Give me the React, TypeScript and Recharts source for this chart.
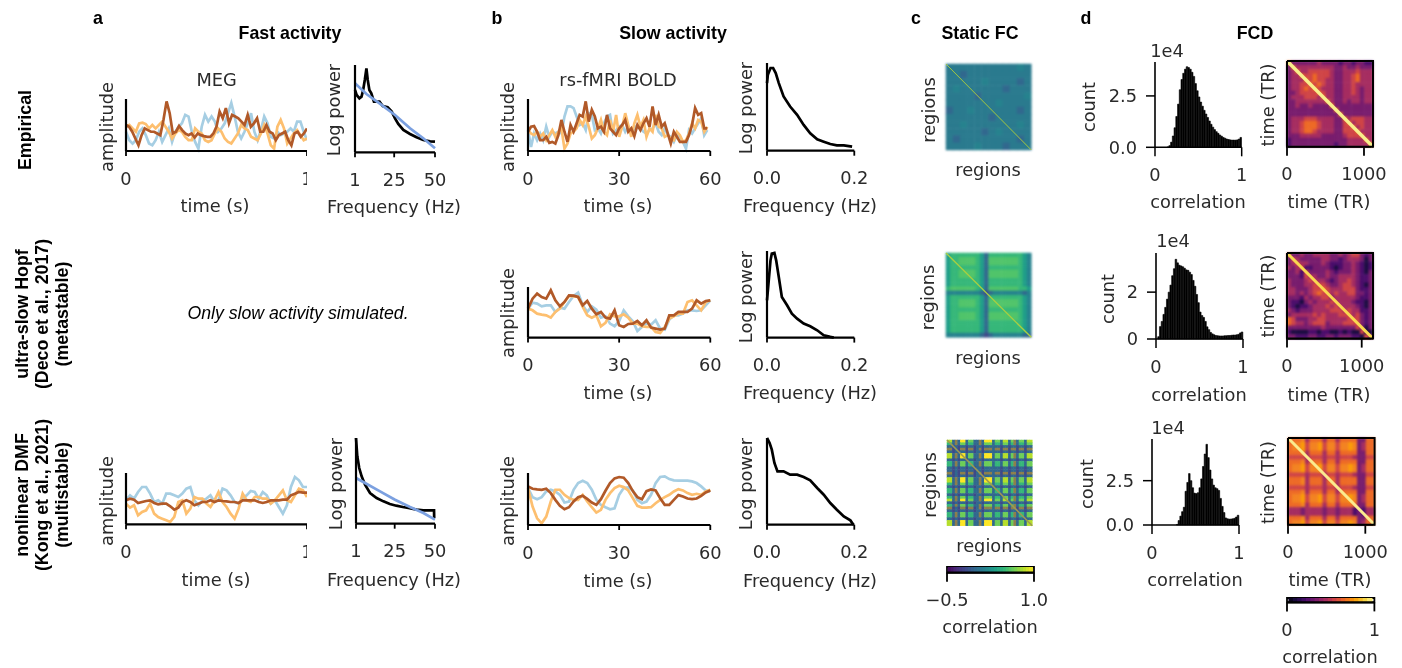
import {
  Bar,
  BarChart,
  Cell,
  Line,
  LineChart,
  ReferenceArea,
  Scatter,
  ScatterChart,
  XAxis,
  YAxis,
} from "recharts"

const BLUE = "#a6cee3"
const ORANGE = "#fdbf6f"
const BROWN = "#b15928"
const FIT = "#7ba0e0"
const INK = "#2a2a2a"
const SANS = "DejaVu Sans"
const HELV = "Liberation Sans"
const FONT_SIZE = 17.8

// time series, arbitrary amplitude units
const megBlue = [57, 32, 22, 32, 57, 67, 47, 22, 17, 32, 57, 27, 47, 67, 27, 57, 72, 82, 107, 102, 57, 27, 7, 72, 107, 87, 102, 87, 57, 67, 82, 112, 142, 102, 57, 37, 57, 82, 112, 57, 32, 62, 102, 82, 42, 37, 57, 47, 52, 57, 67, 57, 87, 87, 57, 32]
const megOrange = [72, 77, 67, 57, 82, 84, 80, 67, 77, 67, 77, 87, 72, 57, 37, 52, 62, 57, 42, 32, 32, 67, 57, 52, 32, 27, 32, 52, 67, 57, 37, 27, 22, 37, 52, 77, 67, 62, 42, 37, 32, 52, 77, 52, 17, 7, 72, 92, 67, 22, 37, 52, 62, 47, 32, 37]
const megBrown = [77, 72, 57, 37, 17, 47, 67, 62, 57, 57, 52, 47, 92, 147, 112, 52, 57, 74, 62, 52, 47, 52, 40, 52, 47, 44, 42, 42, 52, 72, 117, 97, 127, 82, 107, 102, 97, 87, 77, 107, 72, 82, 97, 57, 57, 77, 57, 52, 32, 47, 52, 57, 32, 17, 52, 57, 42, 52, 67]

const boldBlue = [62, 12, 52, 32, 52, 32, 72, 42, 57, 52, 57, 52, 102, 132, 132, 127, 102, 77, 82, 62, 112, 107, 62, 67, 52, 82, 102, 107, 52, 62, 72, 77, 57, 72, 52, 67, 77, 67, 57, 52, 62, 67, 82, 57, 47, 67, 47, 42, 27, 47, 42, 27, 7, 62, 52, 67, 82, 97, 47, 62]
const boldOrange = [62, 52, 47, 57, 42, 52, 32, 47, 62, 42, 57, 67, 7, 22, 52, 57, 67, 92, 77, 102, 72, 37, 47, 67, 92, 57, 47, 92, 57, 107, 42, 72, 112, 77, 42, 82, 107, 72, 92, 42, 67, 57, 107, 72, 67, 42, 47, 37, 32, 57, 47, 27, 32, 52, 82, 67, 92, 87, 57, 72]
const boldBrown = [57, 72, 74, 57, 32, 32, 42, 24, 27, 22, 47, 92, 57, 27, 77, 57, 82, 107, 102, 147, 87, 122, 102, 67, 72, 57, 107, 67, 57, 47, 67, 77, 92, 57, 67, 44, 77, 62, 82, 97, 72, 132, 77, 107, 72, 82, 52, 22, 57, 42, 27, 27, 27, 47, 77, 127, 107, 112, 67, 67]

const hopfBlue = [87, 105, 102, 94, 97, 97, 77, 90, 87, 107, 125, 135, 97, 77, 94, 84, 60, 64, 42, 34, 50, 82, 64, 49, 20, 32, 44, 39, 52, 27, 24, 54, 67, 67, 72, 82, 82, 80, 82, 97, 112]
const hopfOrange = [87, 82, 72, 69, 67, 60, 77, 87, 107, 125, 124, 122, 92, 67, 60, 67, 34, 44, 70, 64, 64, 70, 60, 42, 42, 34, 32, 32, 17, 14, 32, 57, 64, 72, 72, 107, 112, 97, 82, 107, 112]
const hopfBrown = [87, 117, 132, 122, 117, 142, 112, 94, 107, 127, 126, 122, 97, 110, 87, 70, 77, 60, 57, 82, 37, 32, 41, 42, 50, 37, 52, 30, 27, 24, 27, 67, 67, 77, 77, 77, 87, 112, 102, 110, 112]

const dmfFastBlue = [72, 87, 77, 97, 112, 112, 92, 67, 72, 62, 92, 92, 87, 82, 92, 107, 112, 72, 57, 72, 77, 87, 67, 72, 107, 102, 87, 67, 62, 77, 87, 100, 97, 77, 97, 87, 62, 72, 52, 32, 57, 112, 142, 132, 112, 112]
const dmfFastOrange = [62, 50, 57, 27, 37, 42, 62, 32, 22, 17, 12, 7, 22, 67, 72, 32, 47, 82, 77, 77, 62, 52, 72, 97, 67, 52, 32, 17, 47, 92, 72, 67, 82, 82, 77, 77, 62, 72, 87, 102, 72, 67, 87, 107, 102, 82]
const dmfFastBrown = [72, 77, 74, 64, 67, 70, 72, 64, 60, 62, 62, 54, 44, 50, 67, 72, 67, 57, 62, 67, 67, 72, 67, 72, 70, 69, 67, 67, 64, 72, 72, 72, 72, 67, 64, 67, 72, 72, 72, 74, 74, 87, 92, 97, 95, 95]

const dmfSlowBlue = [110, 83, 77, 83, 100, 105, 100, 90, 67, 70, 105, 125, 132, 125, 105, 75, 60, 53, 47, 50, 90, 110, 112, 103, 75, 65, 70, 90, 125, 143, 145, 137, 133, 132, 132, 132, 130, 125, 115, 103, 100]
const dmfSlowOrange = [110, 55, 20, 5, 25, 70, 105, 105, 90, 80, 75, 75, 90, 70, 53, 37, 45, 75, 95, 110, 117, 113, 103, 80, 57, 52, 52, 53, 65, 75, 83, 90, 100, 107, 103, 95, 90, 93, 90, 100, 105]
const dmfSlowBrown = [115, 108, 106, 105, 108, 95, 75, 57, 47, 53, 70, 83, 87, 78, 67, 60, 77, 102, 125, 139, 143, 141, 125, 101, 83, 77, 101, 106, 103, 80, 60, 60, 75, 89, 85, 79, 77, 79, 87, 97, 103]

// power spectra
const megFreq = [1, 2, 3.7, 5, 6, 7, 8, 8.8, 9.8, 11, 12.6, 14, 16, 18, 21, 23.5, 25.5, 27.5, 30.6, 34.7, 38.7, 42.8, 47, 50]
const megPower = [187, 172, 162, 167, 187, 217, 252, 217, 187, 177, 152, 152, 152, 139, 135, 122, 102, 85, 67, 55, 45, 37, 33, 32]
const megFitFreq = [1, 8, 16, 25.5, 34.7, 42.8, 50]
const megFitPower = [207, 175, 147, 112, 72, 42, 12]

const dmfFastFreq = [1, 1.8, 3, 4.5, 6.6, 9.7, 13.8, 18, 22, 26, 30, 33.5, 38.6, 42.8, 47, 49.4, 49.5]
const dmfFastPower = [257, 202, 167, 142, 117, 92, 77, 67, 59, 54, 50, 47, 42, 40, 40, 40, 17]
const dmfFitFreq = [1, 6.6, 15.9, 25.2, 34.5, 42.8, 50]
const dmfFitPower = [137, 122, 97, 72, 50, 32, 12]

const boldFreq = [0, 0.002, 0.008, 0.014, 0.02, 0.027, 0.038, 0.053, 0.069, 0.084, 0.099, 0.115, 0.13, 0.145, 0.16, 0.176, 0.195]
const boldPower = [202, 227, 247, 247, 232, 202, 162, 132, 107, 77, 52, 34, 27, 20, 16, 16, 12]
const hopfFreq = [0, 0.004, 0.008, 0.011, 0.017, 0.021, 0.027, 0.034, 0.046, 0.057, 0.069, 0.084, 0.099, 0.115, 0.13, 0.145, 0.153]
const hopfPower = [112, 172, 232, 252, 254, 232, 182, 122, 97, 72, 57, 42, 34, 22, 7, 2, 0]
const dmfSlowFreq = [0, 0.006, 0.011, 0.017, 0.024, 0.038, 0.053, 0.069, 0.084, 0.099, 0.115, 0.13, 0.145, 0.16, 0.176, 0.191, 0.198]
const dmfSlowPower = [260, 245, 225, 185, 160, 160, 150, 150, 143, 133, 110, 90, 65, 45, 25, 13, 0]

// FCD histograms, 50 bins over 0..1, counts in units of 1e4
const histEmpirical = [0, 0, 0, 0, 0, 0, 0, 0.02, 0.08, 0.25, 0.55, 0.95, 1.5, 2.1, 2.8, 3.3, 3.6, 3.8, 3.92, 3.88, 3.8, 3.65, 3.45, 3.1, 2.75, 2.45, 2.2, 2.0, 1.8, 1.62, 1.45, 1.28, 1.12, 0.98, 0.86, 0.76, 0.68, 0.6, 0.54, 0.48, 0.44, 0.4, 0.38, 0.36, 0.35, 0.35, 0.35, 0.36, 0.4, 0.48]
const histHopf = [0, 0.1, 0.53, 0.75, 1.05, 1.35, 1.7, 2.0, 2.3, 2.7, 3.0, 3.4, 3.25, 3.15, 3.12, 3.08, 3.02, 2.95, 2.93, 2.85, 2.75, 2.5, 2.25, 1.9, 1.55, 1.15, 1.0, 0.92, 0.75, 0.52, 0.4, 0.28, 0.22, 0.18, 0.15, 0.14, 0.13, 0.13, 0.13, 0.14, 0.14, 0.15, 0.15, 0.16, 0.17, 0.17, 0.18, 0.2, 0.26, 0.3]
const histDmf = [0, 0, 0, 0, 0, 0, 0, 0, 0, 0, 0, 0, 0, 0, 0.03, 0.25, 0.5, 0.75, 1.0, 1.9, 2.4, 2.9, 2.5, 2.1, 1.8, 1.77, 1.82, 2.1, 2.6, 3.3, 4.0, 4.55, 3.8, 3.1, 2.6, 2.25, 2.1, 2.05, 1.95, 1.5, 1.05, 0.7, 0.4, 0.35, 0.33, 0.34, 0.35, 0.38, 0.45, 0.55]

// matrices, one hex digit per cell indexing the colour ramp
const fcEmpirical = [
  "cccccccccc4c",
  "cc3ccccccccc",
  "ccccc4cccc3c",
  "c4cccccc3ccc",
  "cccc3cccccc4",
  "ccccccc4cccc",
  "3cc4cccccc3c",
  "cccccc3ccccc",
  "cc4ccccccc4c",
  "ccccc3c4cccc",
  "c3cccccccc3c",
  "cccc4ccc3ccc",
]

const hN = "56666666536666666654"
const hL = "566bbbb653bbbbbbb654"
const hB = "6bbbbbb653bbbbbbb665"
const hD = "44444444323444444434"
const hE = "44444444323444444433"
const fcHopf = [hN, hL, hL, hN, hL, hL, hN, hN, hB, hD, hN, hL, hL, hN, hL, hL, hN, hN, hN, hE]

const kH = "883a39937733a399937738837a377388"
const kG = "663a37736633a377736637736a366377"
const kL = "33232332332332333333233233233233"
const kB = "aa232aa2aa23a2aaa3aa2aa2aa2aa2aa"
const fcDmf = [kH, kG, kL, kB, kL, kH, kH, kL, kG, kG, kL, kL, kB, kL, kH, kH, kG, kL, kG, kG, kL, kG, kH, kL, kG, kB, kL, kG, kG, kL, kH, kH]

const fcdEmpirical = [
  "63333334333323323322",
  "36444444444334334333",
  "34644555554334445444",
  "34465565554334456444",
  "34446565544334456444",
  "34455656544334454444",
  "34456565444334454344",
  "33455556544334454344",
  "34445554644334444344",
  "33444444464334344344",
  "33433433336333333333",
  "33333333333633333333",
  "33333333333363333333",
  "34445554444336455544",
  "34456665444335645544",
  "34456665444335564544",
  "34456654444335556444",
  "33344444333334555644",
  "23333333333333444464",
  "23333333333233444446",
]

const fcdHopf = [
  "53343344443343455323",
  "35433333443323444313",
  "34544333432223343212",
  "43452233332123343212",
  "33425333343233343213",
  "33325443343344443223",
  "43334544432344543223",
  "43334455543345543213",
  "44333455654445553223",
  "44343456554544553323",
  "33324344553444443223",
  "32213434445444432213",
  "32122344454544443213",
  "43233344445554544223",
  "34444454544455545323",
  "65333445544444555323",
  "65443455534445555323",
  "33333333433333335313",
  "21111221221121211511",
  "33222332233233322153",
]

const oA = "666a4666466466663366"
const oB = "6aa75aa75aa5aa7a3466"
const oM = "55554555455455543355"
const oQ = "44434444344344423244"
const fcdDmf = [oA, oB, oB, oA, oM, oA, oB, oB, oM, oA, oA, oM, oA, oB, oB, oA, oQ, oQ, oA, oB]

const viridis = ["#440154", "#482878", "#3e4989", "#31688e", "#26828e", "#1f9e89", "#35b779", "#6ece58", "#b5de2b", "#fde725", "#8d7f4c", "#50c46a", "#2a7a8e"]
const inferno = ["#000004", "#1b0c41", "#4a0c6b", "#781c6d", "#a52c60", "#cf4446", "#ed6925", "#fb9b06", "#f7d13d", "#fcffa4", "#f38220"]

const fcLevels = [-0.45, -0.4, -0.35, -0.3, -0.25, -0.2, -0.15, -0.1, -0.05, 0, 0.05, 0.1, 0.15, 0.2, 0.25, 0.3, 0.35, 0.4, 0.45, 0.5, 0.55, 0.6, 0.65, 0.7, 0.75, 0.8, 0.85, 0.9, 0.95]
const fcdLevels = [0.05, 0.1, 0.15, 0.2, 0.25, 0.3, 0.35, 0.4, 0.45, 0.5, 0.55, 0.6, 0.65, 0.7, 0.75, 0.8, 0.85, 0.9, 0.95]

type Box = { x0: number; x1: number; y0: number; y1: number }
type Trace = { xs?: number[]; ys: number[]; color: string; span?: number; width?: number }

const PAD = { left: 60, right: 24, top: 12, bottom: 72 }

const tickStyle = { fontSize: FONT_SIZE, fontFamily: SANS, fill: INK }
const axisLine = { stroke: "#000", strokeWidth: 2.2 }
const tickLine = { stroke: "#000", strokeWidth: 1.8 }

function place(box: Box, right = PAD.right) {
  return {
    width: PAD.left + box.x1 - box.x0 + right,
    height: PAD.top + box.y1 - box.y0 + PAD.bottom,
    style: { position: "absolute" as const, left: box.x0 - PAD.left, top: box.y0 - PAD.top },
  }
}

function LinePanel({
  box,
  xDomain,
  xTicks,
  yMax,
  traces,
  format,
  clipRight,
}: {
  box: Box
  xDomain: [number, number]
  xTicks: number[]
  yMax: number
  traces: Trace[]
  format?: (v: number) => string
  clipRight?: boolean
}) {
  const { width, height, style } = place(box, clipRight ? 0 : PAD.right)
  return (
    <div style={style}>
      <LineChart
        width={width}
        height={height}
        margin={{ top: PAD.top, right: clipRight ? 0 : PAD.right, left: 0, bottom: 0 }}
      >
        <XAxis
          type="number"
          dataKey="x"
          domain={xDomain}
          ticks={xTicks}
          interval={0}
          height={PAD.bottom}
          tick={tickStyle}
          tickSize={5}
          tickMargin={16}
          tickFormatter={format}
          axisLine={axisLine}
          tickLine={tickLine}
        />
        <YAxis type="number" dataKey="y" domain={[0, yMax]} width={PAD.left} tick={false} tickLine={false} axisLine={axisLine} />
        {traces.map((t, k) => (
          <Line
            key={k}
            data={t.ys.map((y, i) => ({ x: t.xs ? t.xs[i] : (i / (t.ys.length - 1)) * (t.span ?? xDomain[1]), y }))}
            dataKey="y"
            type="linear"
            dot={false}
            stroke={t.color}
            strokeWidth={t.width ?? 2.7}
            isAnimationActive={false}
          />
        ))}
      </LineChart>
    </div>
  )
}

function HistPanel({ box, counts, yMax, yTicks }: { box: Box; counts: number[]; yMax: number; yTicks: number[] }) {
  const { width, height, style } = place(box)
  const rows = counts.map((count, i) => ({ x: (i + 0.5) / counts.length, count }))
  return (
    <div style={style}>
      <BarChart width={width} height={height} data={rows} margin={{ top: PAD.top, right: PAD.right, left: 0, bottom: 0 }}>
        <XAxis
          type="number"
          dataKey="x"
          domain={[0, 1]}
          ticks={[0, 1]}
          interval={0}
          height={PAD.bottom}
          tick={tickStyle}
          tickSize={9}
          tickMargin={12}
          axisLine={{ stroke: "#000", strokeWidth: 1.6 }}
          tickLine={{ stroke: "#000", strokeWidth: 1.5 }}
        />
        <YAxis
          type="number"
          domain={[0, yMax]}
          ticks={yTicks}
          interval={0}
          width={PAD.left}
          tick={tickStyle}
          tickSize={9}
          tickMargin={9}
          tickFormatter={(v: number) => (yTicks[1] % 1 ? v.toFixed(1) : String(v))}
          axisLine={{ stroke: "#000", strokeWidth: 1.6 }}
          tickLine={{ stroke: "#000", strokeWidth: 1.5 }}
        />
        <Bar dataKey="count" fill="#000" stroke="#000" strokeWidth={0.6} barSize={3} isAnimationActive={false} />
      </BarChart>
    </div>
  )
}

function MatrixPanel({
  box,
  rows,
  ramp,
  extent,
  xTicks,
  diagonal,
  diagonalWidth,
  framed,
  crisp,
}: {
  box: Box
  rows: string[]
  ramp: string[]
  extent: number
  xTicks?: number[]
  diagonal: string
  diagonalWidth: number
  framed?: boolean
  crisp?: boolean
}) {
  const { width, height, style } = place(box)
  const n = rows.length
  const cell = (box.x1 - box.x0) / n + 0.5
  const cellH = (box.y1 - box.y0) / n + 0.5
  const cells = rows.flatMap((row, r) =>
    row.split("").map((ch, c) => ({
      x: ((c + 0.5) / n) * extent,
      y: ((r + 0.5) / n) * extent,
      fill: ramp[parseInt(ch, 16)],
    })),
  )
  const noMark = () => <g />
  return (
    <div style={style}>
      <ScatterChart width={width} height={height} margin={{ top: PAD.top, right: PAD.right, left: PAD.left, bottom: xTicks ? 0 : PAD.bottom }}>
        <XAxis
          type="number"
          dataKey="x"
          domain={[0, extent]}
          ticks={xTicks}
          hide={!xTicks}
          interval={0}
          height={PAD.bottom}
          tick={tickStyle}
          tickSize={9}
          tickMargin={12}
          axisLine={axisLine}
          tickLine={tickLine}
        />
        <YAxis type="number" dataKey="y" domain={[0, extent]} reversed hide />
        <Scatter
          className={crisp ? "cells-fine" : "cells"}
          data={cells}
          isAnimationActive={false}
          shape={(p: any) => <rect x={p.cx - cell / 2} y={p.cy - cellH / 2} width={cell} height={cellH} fill={p.payload.fill} />}
        />
        <Scatter
          data={[
            { x: 0, y: 0 },
            { x: extent, y: extent },
          ]}
          line={{ stroke: diagonal, strokeWidth: diagonalWidth }}
          shape={noMark}
          isAnimationActive={false}
        />
        {framed && (
          <Scatter
            data={[
              { x: 0, y: 0 },
              { x: extent, y: 0 },
              { x: extent, y: extent },
              { x: 0, y: extent },
              { x: 0, y: 0 },
            ]}
            line={{ stroke: "#000", strokeWidth: 2 }}
            shape={noMark}
            isAnimationActive={false}
          />
        )}
      </ScatterChart>
    </div>
  )
}

function hexToRgb(hex: string) {
  return [1, 3, 5].map((i) => parseInt(hex.slice(i, i + 2), 16))
}

function rampColor(ramp: string[], t: number) {
  const stops = ramp.slice(0, 10)
  const pos = t * (stops.length - 1)
  const i = Math.min(Math.floor(pos), stops.length - 2)
  const a = hexToRgb(stops[i])
  const b = hexToRgb(stops[i + 1])
  const mix = a.map((v, k) => Math.round(v + (b[k] - v) * (pos - i)))
  return `rgb(${mix[0]},${mix[1]},${mix[2]})`
}

function ColorBar({
  box,
  levels,
  range,
  ramp,
  format,
}: {
  box: Box
  levels: number[]
  range: [number, number]
  ramp: string[]
  format: (v: number) => string
}) {
  const { width, height, style } = place(box)
  const [lo, hi] = range
  const rows = levels.map((x) => ({ x, h: [0.15, 0.85] }))
  return (
    <div style={style}>
      <BarChart width={width} height={height} data={rows} margin={{ top: PAD.top, right: PAD.right, left: PAD.left, bottom: 0 }}>
        <XAxis
          type="number"
          dataKey="x"
          domain={[lo, hi]}
          ticks={[lo, hi]}
          interval={0}
          height={PAD.bottom}
          tick={tickStyle}
          tickSize={9}
          tickMargin={12}
          tickFormatter={format}
          axisLine={axisLine}
          tickLine={tickLine}
        />
        <YAxis type="number" domain={[0, 1]} hide />
        <Bar dataKey="h" barSize={6} isAnimationActive={false}>
          {levels.map((v) => {
            const c = rampColor(ramp, (v - lo) / (hi - lo))
            return <Cell key={v} fill={c} stroke={c} strokeWidth={1.5} />
          })}
        </Bar>
        <ReferenceArea x1={lo} x2={hi} y1={0} y2={1} fill="none" fillOpacity={0} stroke="#000" strokeWidth={1.8} ifOverflow="visible" />
      </BarChart>
    </div>
  )
}

// titles and axis names
type Caption = [string, number, number, number?]

const headings: Caption[] = [
  ["a", 98, 18],
  ["Fast activity", 290, 32.5],
  ["b", 497, 18],
  ["Slow activity", 673, 32.5],
  ["c", 916, 18],
  ["Static FC", 980, 32.5],
  ["d", 1086, 18],
  ["FCD", 1255, 32.5],
  ["Empirical", 25, 130, -90],
  ["ultra-slow Hopf", 22, 314, -90],
  ["(Deco et al., 2017)", 42, 314, -90],
  ["(metastable)", 62, 314, -90],
  ["nonlinear DMF", 22, 495, -90],
  ["(Kong et al., 2021)", 42, 495, -90],
  ["(multistable)", 62, 495, -90],
]

const axisNames: Caption[] = [
  ["MEG", 216.7, 79],
  ["rs-fMRI BOLD", 618, 79],
  ["amplitude", 106, 127, -90],
  ["time (s)", 215, 205],
  ["Log power", 333, 110, -90],
  ["Frequency (Hz)", 394, 206],
  ["amplitude", 507, 127, -90],
  ["time (s)", 618, 205],
  ["Log power", 745, 108, -90],
  ["Frequency (Hz)", 810, 205],
  ["regions", 928, 110, -90],
  ["regions", 988, 169],
  ["1e4", 1167, 50],
  ["count", 1088, 107, -90],
  ["correlation", 1198, 201.5],
  ["time (TR)", 1267, 105, -90],
  ["time (TR)", 1329, 201.5],
  ["amplitude", 507, 313, -90],
  ["time (s)", 618, 392],
  ["Log power", 745, 297, -90],
  ["Frequency (Hz)", 810, 392],
  ["regions", 927, 297.5, -90],
  ["regions", 988, 357],
  ["1e4", 1173, 240.5],
  ["count", 1107, 299, -90],
  ["correlation", 1199, 394],
  ["time (TR)", 1267, 296, -90],
  ["time (TR)", 1329, 394],
  ["amplitude", 106.5, 501, -90],
  ["time (s)", 216, 579],
  ["Log power", 335, 484, -90],
  ["Frequency (Hz)", 394, 579],
  ["amplitude", 507, 501, -90],
  ["time (s)", 618, 580],
  ["Log power", 745, 484, -90],
  ["Frequency (Hz)", 810, 580],
  ["regions", 929, 485, -90],
  ["regions", 989, 545],
  ["1e4", 1168, 427],
  ["count", 1086, 484, -90],
  ["correlation", 1195, 579],
  ["time (TR)", 1267, 482.5, -90],
  ["time (TR)", 1330, 579],
  ["correlation", 990, 626.5],
  ["correlation", 1330, 656.5],
]

function CaptionText({ c, bold }: { c: Caption; bold?: boolean }) {
  const [text, x, y, rot] = c
  return (
    <text
      x={x}
      y={y}
      transform={rot ? `rotate(${rot} ${x} ${y})` : undefined}
      textAnchor="middle"
      dominantBaseline="central"
      fontFamily={bold ? HELV : SANS}
      fontWeight={bold ? 700 : 400}
      fontSize={bold ? 17.8 : FONT_SIZE}
      fill={bold ? "#000" : INK}
    >
      {text}
    </text>
  )
}

const fastTicks = [0, 1]
const slowTicks = [0, 30, 60]
const megTicks = [1, 25, 50]
const boldTicks = [0, 0.2]
const fixed1 = (v: number) => v.toFixed(1)

export default function App() {
  return (
    <div style={{ position: "absolute", left: 0, top: 0, width: 1402, height: 668, background: "#fff", overflow: "hidden", filter: "blur(0.5px)" }}>
      <style>{`.cells { filter: blur(0.9px); } .cells-fine { filter: blur(0.4px); }`}</style>
      <LinePanel
        box={{ x0: 125.7, x1: 306.7, y0: 99, y1: 151 }}
        xDomain={[0, 1]}
        xTicks={fastTicks}
        yMax={154}
        clipRight
        traces={[
          { ys: megBlue, color: BLUE },
          { ys: megOrange, color: ORANGE },
          { ys: megBrown, color: BROWN },
        ]}
      />
      <LinePanel
        box={{ x0: 355, x1: 435, y0: 65, y1: 152.3 }}
        xDomain={[1, 50]}
        xTicks={megTicks}
        yMax={262}
        traces={[
          { xs: megFreq, ys: megPower, color: "#000" },
          { xs: megFitFreq, ys: megFitPower, color: FIT },
        ]}
      />
      <LinePanel
        box={{ x0: 527.7, x1: 710, y0: 99, y1: 151 }}
        xDomain={[0, 60]}
        xTicks={slowTicks}
        yMax={154}
        traces={[
          { ys: boldBlue, color: BLUE, span: 59 },
          { ys: boldOrange, color: ORANGE, span: 59 },
          { ys: boldBrown, color: BROWN, span: 59 },
        ]}
      />
      <LinePanel
        box={{ x0: 766.7, x1: 854, y0: 63.3, y1: 151 }}
        xDomain={[0, 0.2]}
        xTicks={boldTicks}
        yMax={262}
        format={fixed1}
        traces={[{ xs: boldFreq, ys: boldPower, color: "#000" }]}
      />
      <MatrixPanel box={{ x0: 945.7, x1: 1031, y0: 64, y1: 150 }} rows={fcEmpirical} ramp={viridis} extent={360} diagonal="#a5c840" diagonalWidth={1} />
      <HistPanel box={{ x0: 1155, x1: 1241.7, y0: 62, y1: 147.3 }} counts={histEmpirical} yMax={4.15} yTicks={[0, 2.5]} />
      <MatrixPanel box={{ x0: 1287, x1: 1373, y0: 61, y1: 146.7 }} rows={fcdEmpirical} ramp={inferno} extent={1117} xTicks={[0, 1000]} diagonal="#f8ef8c" diagonalWidth={3.5} framed />

      <LinePanel
        box={{ x0: 527.7, x1: 710, y0: 286.7, y1: 337.3 }}
        xDomain={[0, 60]}
        xTicks={slowTicks}
        yMax={152}
        traces={[
          { ys: hopfBlue, color: BLUE },
          { ys: hopfOrange, color: ORANGE },
          { ys: hopfBrown, color: BROWN },
        ]}
      />
      <LinePanel
        box={{ x0: 766.7, x1: 854, y0: 250.7, y1: 337.3 }}
        xDomain={[0, 0.2]}
        xTicks={boldTicks}
        yMax={260}
        format={fixed1}
        traces={[{ xs: hopfFreq, ys: hopfPower, color: "#000" }]}
      />
      <MatrixPanel box={{ x0: 945.7, x1: 1031, y0: 252.7, y1: 337 }} rows={fcHopf} ramp={viridis} extent={360} diagonal="#a9cf40" diagonalWidth={1.4} />
      <HistPanel box={{ x0: 1155.7, x1: 1242.7, y0: 253, y1: 339 }} counts={histHopf} yMax={3.67} yTicks={[0, 2]} />
      <MatrixPanel box={{ x0: 1287, x1: 1373, y0: 252.7, y1: 338.3 }} rows={fcdHopf} ramp={inferno} extent={1151} xTicks={[0, 1000]} diagonal="#f9d850" diagonalWidth={3} framed />

      <LinePanel
        box={{ x0: 125.7, x1: 306.7, y0: 472.7, y1: 524 }}
        xDomain={[0, 1]}
        xTicks={fastTicks}
        yMax={154}
        clipRight
        traces={[
          { ys: dmfFastBlue, color: BLUE },
          { ys: dmfFastOrange, color: ORANGE },
          { ys: dmfFastBrown, color: BROWN },
        ]}
      />
      <LinePanel
        box={{ x0: 356, x1: 435, y0: 438.3, y1: 524 }}
        xDomain={[1, 50]}
        xTicks={megTicks}
        yMax={257}
        traces={[
          { xs: dmfFastFreq, ys: dmfFastPower, color: "#000" },
          { xs: dmfFitFreq, ys: dmfFitPower, color: FIT },
        ]}
      />
      <LinePanel
        box={{ x0: 527.7, x1: 710, y0: 473, y1: 525 }}
        xDomain={[0, 60]}
        xTicks={slowTicks}
        yMax={155}
        traces={[
          { ys: dmfSlowBlue, color: BLUE },
          { ys: dmfSlowOrange, color: ORANGE },
          { ys: dmfSlowBrown, color: BROWN },
        ]}
      />
      <LinePanel
        box={{ x0: 766.7, x1: 854, y0: 438.3, y1: 525 }}
        xDomain={[0, 0.2]}
        xTicks={boldTicks}
        yMax={260}
        format={fixed1}
        traces={[{ xs: dmfSlowFreq, ys: dmfSlowPower, color: "#000" }]}
      />
      <MatrixPanel box={{ x0: 946.7, x1: 1032, y0: 440, y1: 525.7 }} rows={fcDmf} ramp={viridis} extent={360} diagonal="#9c9a52" diagonalWidth={1.6} crisp />
      <HistPanel box={{ x0: 1152.3, x1: 1239.3, y0: 439.3, y1: 525.3 }} counts={histDmf} yMax={4.85} yTicks={[0, 2.5]} />
      <MatrixPanel box={{ x0: 1287.7, x1: 1374.3, y0: 438.3, y1: 525 }} rows={fcdDmf} ramp={inferno} extent={1120} xTicks={[0, 1000]} diagonal="#fbea8e" diagonalWidth={3} framed />

      <ColorBar box={{ x0: 947, x1: 1034, y0: 567, y1: 572.7 }} levels={fcLevels} range={[-0.5, 1]} ramp={viridis} format={(v) => v.toFixed(1).replace("-", "\u2212")} />
      <ColorBar box={{ x0: 1287.3, x1: 1374.7, y0: 598.3, y1: 602.7 }} levels={fcdLevels} range={[0, 1]} ramp={inferno} format={(v) => String(v)} />

      <svg width={1402} height={668} style={{ position: "absolute", left: 0, top: 0, pointerEvents: "none" }}>
        {headings.map((c, i) => (
          <CaptionText key={i} c={c} bold />
        ))}
        {axisNames.map((c, i) => (
          <CaptionText key={i} c={c} />
        ))}
        <text x={298} y={313} textAnchor="middle" dominantBaseline="central" fontFamily={HELV} fontStyle="italic" fontSize={17.7} fill="#000">
          Only slow activity simulated.
        </text>
      </svg>
    </div>
  )
}
